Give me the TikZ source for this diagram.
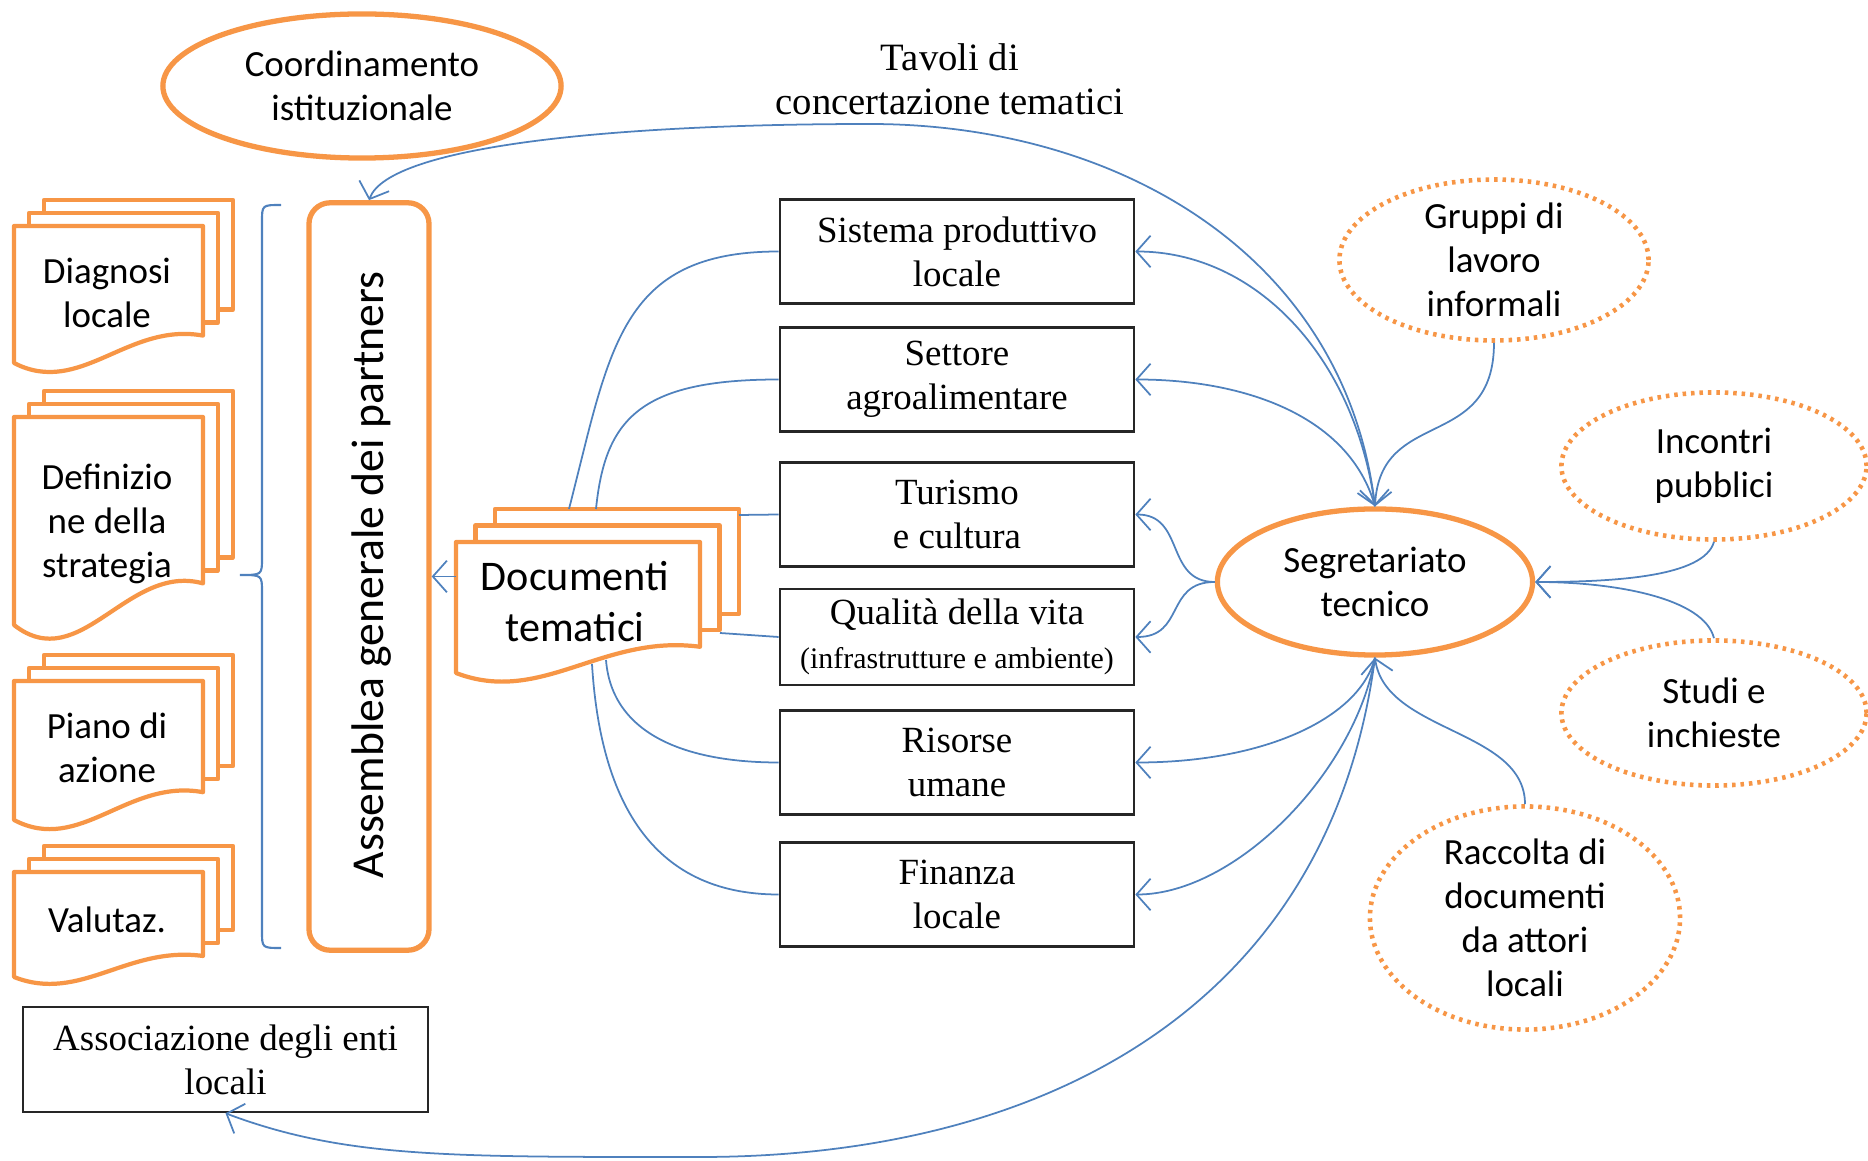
\documentclass[tikz,border=0pt]{standalone}
\usepackage{fontspec}
\setmainfont{Liberation Serif}
\newfontfamily\carlito{Carlito}
\usetikzlibrary{arrows.meta,shapes.geometric}

\definecolor{arancio}{RGB}{247,150,70}
\definecolor{blulinea}{RGB}{79,129,189}

\tikzset{
  casella/.style={draw=black!85, line width=0.7pt, fill=white, minimum width=3.54cm,
    minimum height=1.04cm, align=center, inner sep=2pt, font=\fontsize{10.5}{12.5}\selectfont},
  ovale/.style={ellipse, draw=arancio, line width=1.5pt, fill=white, inner sep=0pt,
    align=center, font=\carlito\fontsize{10.5}{12.5}\selectfont},
  ovalepunt/.style={ellipse, draw=arancio, line width=1.3pt, dash pattern=on 1pt off 1.4pt,
    fill=white, inner sep=0pt, align=center, font=\carlito\fontsize{10.5}{12.5}\selectfont},
  foglio/.style={draw=arancio, line width=1.2pt, fill=white, line join=round},
  testodoc/.style={align=center, font=\carlito\fontsize{10.5}{12.5}\selectfont},
  freccia/.style={blulinea, line width=0.5pt, >={Straight Barb[length=4pt,width=9pt]}},
}

% pila di documenti: x, y (angolo in alto a sinistra), larghezza, altezza, dx, dy
\newcommand{\docstack}[6]{%
  \foreach \k in {2,1}{%
    \filldraw[foglio] ({#1+\k*#5},{#2-\k*#6}) rectangle ({#1+#3+\k*#5},{#2+0.8*#4-\k*#6});
  }%
  \filldraw[foglio] (#1,#2) -- ({#1+#3},#2) -- ({#1+#3},{#2+0.8*#4})
    .. controls ({#1+0.6*#3},{#2+0.7*#4}) and ({#1+0.35*#3},{#2+1.25*#4}) .. (#1,{#2+#4}) -- cycle;
}

\begin{document}
\begin{tikzpicture}[x=0.01cm,y=-0.01cm]
\useasboundingbox (0,0) rectangle (1868,1161);

% Coordinamento e tavoli
\node[ovale, minimum width=3.98cm, minimum height=1.44cm] (coord) at (362,86) {Coordinamento\\istituzionale};
\node[align=center, font=\fontsize{11}{12.5}\selectfont] (tavoli) at (950,79) {Tavoli di\\concertazione tematici};

% Documenti a sinistra
\docstack{14}{226}{189}{137}{15}{13}
\node[testodoc] (diag) at (107,293) {Diagnosi\\locale};
\docstack{14}{417}{189}{208}{15}{13}
\node[testodoc] (defi) at (107,524) {Definizio\\ne della\\strategia};
\docstack{14}{681}{189}{139}{15}{13}
\node[testodoc] (piano) at (107,748) {Piano di\\azione};
\docstack{14}{872}{189}{105}{15}{13}
\node[testodoc] (valu) at (107,920) {Valutaz.};

% Parentesi
\draw[blulinea, line width=0.6pt] (281,205) .. controls (262,205) .. (262,222) -- (262,558)
  .. controls (262,575) .. (240,575) .. controls (262,575) .. (262,592) -- (262,931)
  .. controls (262,948) .. (281,948);

% Assemblea
\node[draw=arancio, line width=1.5pt, fill=white, rounded corners=6pt,
  minimum width=1.2cm, minimum height=7.47cm] (assem) at (369,576.5) {};
\node[rotate=90, font=\carlito\fontsize{13}{16}\selectfont] (assemtxt) at (372,575) {Assemblea generale dei partners};

% Documenti tematici
\docstack{456}{542}{244}{131}{19.5}{16.5}
\node[align=center, font=\carlito\fontsize{12}{14.5}\selectfont] (docum) at (575,602) {Documenti\\tematici};
\coordinate (docSis) at (569,509);
\coordinate (docSet) at (596,509);
\coordinate (docTur) at (739,515);
\coordinate (docQua) at (720,633);
\coordinate (docRis) at (606,660);
\coordinate (docFin) at (592,664);
\coordinate (docAss) at (456,576.5);

% Tavoli tematici
\node[casella] (sis) at (957,251.5) {Sistema produttivo\\locale};
\node[casella] (sett) at (957,379.5) {Settore\\agroalimentare};
\node[casella] (tur) at (957,514.5) {Turismo\\e cultura};
\node[casella, minimum height=0.96cm] (qual) at (957,637) {Qualità della vita\\{\fontsize{8.5}{10}\selectfont(infrastrutture e ambiente)}};
\node[casella] (ris) at (957,762.5) {Risorse\\umane};
\node[casella] (fin) at (957,894.5) {Finanza\\locale};
\node[casella, minimum width=4.05cm, minimum height=1.05cm] (assoc) at (225.5,1059.5) {Associazione degli enti\\locali};

% Segretariato e fonti
\node[ovale, minimum width=3.15cm, minimum height=1.46cm] (segr) at (1375,582) {Segretariato\\tecnico};
\node[ovalepunt, minimum width=3.09cm, minimum height=1.47cm] (gru) at (1494,260) {Gruppi di\\lavoro\\informali};
\node[ovalepunt, minimum width=3.05cm, minimum height=1.47cm] (inc) at (1714,466) {Incontri\\pubblici};
\node[ovalepunt, minimum width=3.05cm, minimum height=1.45cm] (stu) at (1714,713) {Studi e\\inchieste};
\node[ovalepunt, minimum width=3.10cm, minimum height=2.08cm] (rac) at (1525,918) {Raccolta di\\documenti\\da attori\\locali};

% punti di passaggio
\coordinate (arcTop) at (870,124);
\coordinate (arcBot) at (700,1157);

% Collegamenti dai documenti tematici
\draw[freccia,->] (docAss) -- (assem.east);
\draw[freccia] (docSis) .. controls +(41,-159) and +(-160,0) .. (sis.west);
\draw[freccia] (docSet) .. controls +(9,-89) and +(-140,0) .. (sett.west);
\draw[freccia] (docTur) -- (tur.west);
\draw[freccia] (docQua) -- (qual.west);
\draw[freccia] (docRis) .. controls +(6,76) and +(-90,0) .. (ris.west);
\draw[freccia] (docFin) .. controls +(8,132) and +(-130,0) .. (fin.west);

% Collegamenti dal segretariato
\draw[freccia,<->] (assem.north) .. controls +(20,-55) and +(-250,0) .. (arcTop)
  .. controls +(250,0) and +(-30,-250) .. (segr.north);
\draw[freccia,<-] (sis.east) .. controls +(120,0) and +(-20,-150) .. (segr.north);
\draw[freccia,<-] (sett.east) .. controls +(110,0) and +(-25,-90) .. (segr.north);
\draw[freccia,->] (gru.south) .. controls +(0,110) and +(5,-100) .. (segr.north);
\draw[freccia,<-] (tur.east) .. controls +(50,0) and +(-50,0) .. (segr.west);
\draw[freccia,<-] (qual.east) .. controls +(50,0) and +(-50,0) .. (segr.west);
\draw[freccia,<-] (ris.east) .. controls +(130,0) and +(-15,60) .. (segr.south);
\draw[freccia,<-] (fin.east) .. controls +(100,0) and +(-20,115) .. (segr.south);
\draw[freccia,<-] (assoc.south) .. controls +(120,45) and +(-250,0) .. (arcBot)
  .. controls +(350,0) and +(-45,345) .. (segr.south);
\draw[freccia,->] (rac.north) .. controls +(0,-75) and +(10,75) .. (segr.south);
\draw[freccia,->] (inc.south) .. controls +(-10,35) and +(80,0) .. (segr.east);
\draw[freccia,->] (stu.north) .. controls +(-10,-40) and +(80,0) .. (segr.east);
\end{tikzpicture}
\end{document}
